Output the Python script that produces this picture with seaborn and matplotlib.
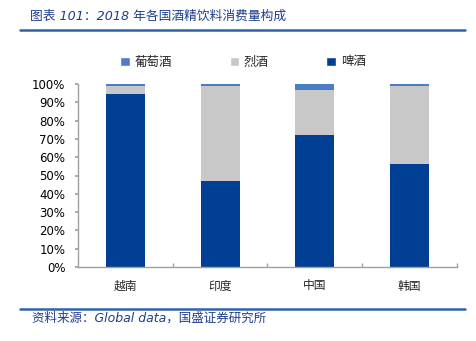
import matplotlib
matplotlib.use("Agg")
import matplotlib.pyplot as plt
import seaborn as sns
import pandas as pd
import numpy as np
from matplotlib.patches import Patch
from matplotlib.lines import Line2D
from matplotlib.ticker import FuncFormatter

countries = ["越南", "印度", "中国", "韩国"]
beer = [94.5, 47.0, 72.0, 56.2]
spirits = [4.5, 52.0, 24.5, 42.8]
wine = [1.0, 1.0, 3.5, 1.0]
series_names = ["葡萄酒", "烈酒", "啤酒"]
ytick_vals = [0, 10, 20, 30, 40, 50, 60, 70, 80, 90, 100]

sns.set_theme(style="white")
plt.rcParams["font.family"] = ["DejaVu Sans", "Noto Sans CJK SC"]

c_beer = "#003F94"
c_spirits = "#C8C8C8"
c_wine = "#4A7EC4"

df = pd.DataFrame({"country": countries, "beer": beer, "spirits": spirits, "wine": wine})
df["lvl2"] = df["beer"] + df["spirits"]
df["lvl3"] = df["lvl2"] + df["wine"]

fig = plt.figure(figsize=(4.77, 3.41), dpi=100)
ax = fig.add_axes([78/477, 1-267/341, (457-78)/477, (267-84)/341])

w = 0.41
sns.barplot(data=df, x="country", y="lvl3", color=c_wine, width=w, ax=ax, saturation=1, edgecolor="none")
sns.barplot(data=df, x="country", y="lvl2", color=c_spirits, width=w, ax=ax, saturation=1, edgecolor="none")
sns.barplot(data=df, x="country", y="beer", color=c_beer, width=w, ax=ax, saturation=1, edgecolor="none")

ax.set_xlim(-0.5, 3.5)
ax.set_ylim(0, 100)
ax.set_yticks(ytick_vals)
ax.yaxis.set_major_formatter(FuncFormatter(lambda v, p: f"{int(v)}%"))
ax.set_xlabel("")
ax.set_ylabel("")
for s in ["top", "right"]:
    ax.spines[s].set_visible(False)
for s in ["left", "bottom"]:
    ax.spines[s].set_color("#A0A0A0")
    ax.spines[s].set_linewidth(1.0)
ax.tick_params(axis="y", labelsize=8.5, colors="black", length=2, direction="out", color="#A0A0A0", pad=7, left=True)
ax.tick_params(axis="x", length=0, pad=9)
for lbl in ax.get_xticklabels():
    lbl.set_fontfamily(["Noto Sans CJK SC"])
    lbl.set_fontsize(8.5)
ax.set_xticks([0.5, 1.5, 2.5, 3.5], minor=True)
ax.tick_params(axis="x", which="minor", length=3, direction="in", color="#A0A0A0", bottom=True)

handles = [Patch(facecolor=c_wine, label=series_names[0]),
           Patch(facecolor=c_spirits, label=series_names[1]),
           Patch(facecolor=c_beer, label=series_names[2])]
leg = fig.legend(handles=handles, loc="center", bbox_to_anchor=(243/477, 1-62/341), ncol=3,
                 frameon=False, prop={"family": ["Noto Sans CJK SC"], "size": 9},
                 handlelength=0.75, handleheight=0.75, columnspacing=4.6, handletextpad=0.4)

# title and lines
fig.text(30/477, 1-16/341, "图表 101：2018 年各国酒精饮料消费量构成", ha="left", va="center",
         fontsize=9.2, color="#1F3D8C", style="italic", family=["DejaVu Sans", "Noto Sans CJK SC"])
fig.add_artist(Line2D([20/477, 465/477], [1-30/341, 1-30/341], color="#2E63AE", lw=1.8))
fig.add_artist(Line2D([20/477, 465/477], [1-309/341, 1-309/341], color="#2E63AE", lw=1.8))
fig.text(32/477, 1-318/341, "资料来源：Global data，国盛证券研究所", ha="left", va="center",
         fontsize=9, color="#1F3D8C", style="italic", family=["DejaVu Sans", "Noto Sans CJK SC"])

fig.savefig("out.png", dpi=100)
